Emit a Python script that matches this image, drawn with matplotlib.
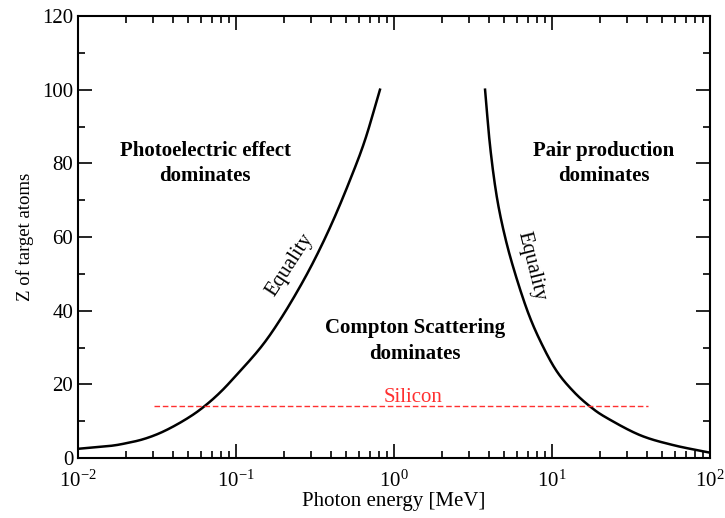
import numpy as np
import matplotlib.pyplot as plt
from matplotlib.ticker import MultipleLocator, LogLocator, LogFormatterMathtext, NullFormatter

plt.rcParams['font.family'] = ['Liberation Serif', 'DejaVu Serif']
plt.rcParams['mathtext.fontset'] = 'custom'
plt.rcParams['mathtext.rm'] = 'Liberation Serif'
plt.rcParams['mathtext.it'] = 'Liberation Serif:italic'
plt.rcParams['mathtext.bf'] = 'Liberation Serif:bold'
plt.rcParams['axes.unicode_minus'] = False

# photoelectric / Compton equality curve
pe_energy = [0.01, 0.0158, 0.0201, 0.0257, 0.0327, 0.0417, 0.0532, 0.0646, 0.0784,
             0.0953, 0.142, 0.190, 0.254, 0.324, 0.413, 0.527, 0.655, 0.815]
pe_z = [2.5, 3.26, 4.0, 5.07, 6.7, 8.96, 11.7, 14.4, 17.6,
        21.4, 29.8, 37.5, 46.5, 55.0, 64.6, 75.5, 86.3, 100.0]

# Compton / pair production equality curve
pp_energy = [3.77, 4.06, 4.47, 5.04, 5.84, 7.08, 8.6, 10.7, 13.65, 17.4, 22.2, 36.1, 58.6, 100.0]
pp_z = [100.0, 84.5, 71.0, 60.1, 50.1, 39.3, 31.0, 23.6, 18.1, 14.0, 10.9, 6.2, 3.5, 1.45]

# silicon line
si_energy = [0.0303, 40.8]
si_z = [14, 14]


def catmull_rom(xs, ys, n=30):
    # Catmull-Rom spline through the points, in log10(x) space
    p = np.column_stack([np.log10(xs), ys])
    p = np.vstack([2 * p[0] - p[1], p, 2 * p[-1] - p[-2]])
    out = []
    for i in range(1, len(p) - 2):
        p0, p1, p2, p3 = p[i - 1], p[i], p[i + 1], p[i + 2]
        t = np.linspace(0, 1, n, endpoint=False)[:, None]
        seg = 0.5 * ((2 * p1) + (-p0 + p2) * t + (2 * p0 - 5 * p1 + 4 * p2 - p3) * t ** 2
                     + (-p0 + 3 * p1 - 3 * p2 + p3) * t ** 3)
        out.append(seg)
    out.append(p[-2][None, :])
    out = np.vstack(out)
    return 10 ** out[:, 0], out[:, 1]


fig = plt.figure(figsize=(7.25, 5.18), dpi=100)
ax = fig.add_axes([0.1076, 0.1158, 0.8717, 0.8533])

x1, y1 = catmull_rom(pe_energy, pe_z)
x2, y2 = catmull_rom(pp_energy, pp_z)
ax.plot(x1, y1, color='black', lw=1.8)
ax.plot(x2, y2, color='black', lw=1.8)
ax.plot(si_energy, si_z, color='#ff3030', lw=1.0, linestyle=(0, (4, 2)))

ax.set_xscale('log')
ax.set_xlim(1e-2, 1e2)
ax.set_ylim(0, 120)

ax.xaxis.set_major_locator(LogLocator(base=10, numticks=10))
ax.xaxis.set_minor_locator(LogLocator(base=10, subs=np.arange(2, 10), numticks=10))
ax.xaxis.set_major_formatter(LogFormatterMathtext())
ax.xaxis.set_minor_formatter(NullFormatter())
ax.yaxis.set_major_locator(MultipleLocator(20))
ax.yaxis.set_minor_locator(MultipleLocator(10))

ax.tick_params(which='both', direction='in', top=True, right=True, labelsize=15, width=1.2)
ax.tick_params(which='major', length=10)
ax.tick_params(which='minor', length=5)
ax.tick_params(axis='x', which='major', pad=9)
for s in ax.spines.values():
    s.set_linewidth(1.5)

ax.set_xlabel('Photon energy [MeV]', fontsize=15, labelpad=0)
ax.set_ylabel('Z of target atoms', fontsize=13.5, labelpad=6)

bold = dict(fontsize=15, fontweight='bold', ha='center', va='center', linespacing=1.35)
ax.text(0.0637, 80.0, 'Photoelectric effect\ndominates', **bold)
ax.text(21.3, 80.0, 'Pair production\ndominates', **bold)
ax.text(1.36, 31.8, 'Compton Scattering\ndominates', **bold)

ax.text(0.22, 52.4, 'Equality', fontsize=15, rotation=57, ha='center', va='center')
ax.text(7.36, 52.0, 'Equality', fontsize=15, rotation=-76, ha='center', va='center')
ax.text(1.32, 16.3, 'Silicon', fontsize=15, color='#ff3030', ha='center', va='center')

fig.savefig('out.png', dpi=100)
